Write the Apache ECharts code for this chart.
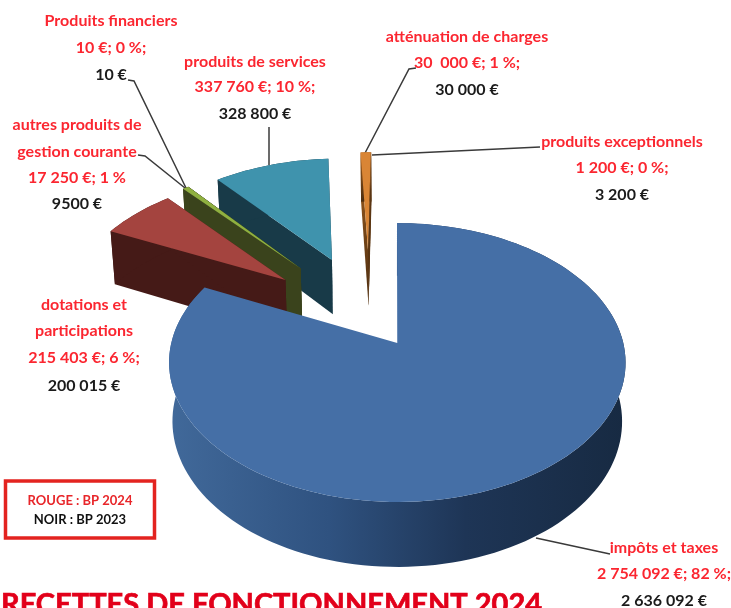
<!DOCTYPE html>
<html>
<head>
<meta charset="utf-8">
<script src="https://cdn.jsdelivr.net/npm/echarts@6/dist/echarts.min.js"></script>
<style>
html, body { margin: 0; padding: 0; background: #fff; overflow: hidden; }
#main { width: 731px; height: 608px; }
</style>
</head>
<body>
<div id="main"></div>
<script>
var categories = ['impôts et taxes', 'dotations et\nparticipations', 'autres produits de\ngestion courante', 'Produits financiers', 'produits de services', 'atténuation de charges', 'produits exceptionnels'];
var bp2024 = [2754092, 215403, 17250, 10, 337760, 30000, 1200];
var labels2024 = ['2 754 092 €; 82 %;', '215 403 €; 6 %;', '17 250 €; 1 %', '10 €; 0 %;', '337 760 €; 10 %;', '30  000 €; 1 %;', '1 200 €; 0 %;'];
var labels2023 = ['2 636 092 €', '200 015 €', '9500 €', '10 €', '328 800 €', '30 000 €', '3 200 €'];

// pie angles come from the values, clockwise from the top
var total = bp2024.reduce(function(a, b) { return a + b; }, 0);
var angles = [];
var acc = 0;
bp2024.forEach(function(v) {
    var from = acc / total * 360;
    acc += v;
    angles.push([from, acc / total * 360]);
});

// fake 3d: perspective of the pie plane
var cx = 395, cy = 343, rx = 226, ry = 136.7, persp = 0.14, depth = 58, shrink = 0.985;
var explode = [[0.01, 0], [-0.518, -0.493], [-0.452, -0.59], [-0.452, -0.59], [-0.305, -0.663], [-0.131, -0.734], [-0.131, -0.734]];
var topColors = ['#456fa6', '#a4443f', '#8fb040', '#8fb040', '#3f93ad', '#d98535', '#d98535'];
var wallColors = [null, '#451a17', '#3a431c', '#3a431c', '#183a48', '#5a3512', '#5a3512'];
var drawOrder = [5, 6, 4, 3, 2, 1, 0];

function project(u, v, low) {
    var s = 1 / (1 - persp * v);
    var x = rx * u * s;
    var y = ry * v * s;
    if (low) {
        return [cx + x * shrink, cy + y + depth * Math.pow(s, 0.75)];
    }
    return [cx + x, cy + y];
}

function arcPoints(i, from, to, low) {
    var pts = [];
    var n = Math.max(2, Math.ceil((to - from) / 2));
    for (var k = 0; k <= n; k++) {
        var a = (from + (to - from) * k / n) * Math.PI / 180;
        pts.push(project(explode[i][0] + Math.sin(a), explode[i][1] - Math.cos(a), low));
    }
    return pts;
}

function poly(points, fill) {
    return { type: 'polygon', shape: { points: points }, style: { fill: fill, stroke: null } };
}

function renderSlice(params, api) {
    var i = api.value(2);
    var from = api.value(0), to = api.value(1);
    var apexTop = project(explode[i][0], explode[i][1], false);
    var apexLow = project(explode[i][0], explode[i][1], true);
    var rimTop = arcPoints(i, from, to, false);
    var rimLow = arcPoints(i, from, to, true);
    var children = [];
    var rimFill = wallColors[i];
    if (i === 0) {
        rimFill = new echarts.graphic.LinearGradient(0, 0, 1, 0, [
            { offset: 0, color: '#41699a' },
            { offset: 0.35, color: '#2f5280' },
            { offset: 0.65, color: '#1e3556' },
            { offset: 1, color: '#172a42' }
        ]);
    }
    if (i === 5) {
        rimFill = new echarts.graphic.LinearGradient(0, 0, 0, 1, [
            { offset: 0, color: '#a2601f' },
            { offset: 1, color: '#4a2c10' }
        ]);
    }
    // radial walls, then outer wall, then the top face
    if (i !== 0) {
        children.push(poly([apexTop, rimTop[0], rimLow[0], apexLow], rimFill));
        children.push(poly([apexTop, rimTop[rimTop.length - 1], rimLow[rimLow.length - 1], apexLow], rimFill));
    }
    children.push(poly(rimTop.concat(rimLow.slice().reverse()), rimFill));
    children.push(poly([apexTop].concat(rimTop), topColors[i]));
    return { type: 'group', children: children };
}

// label blocks: x centre and one y per line
var labelPos = [
    { x: 664, y: [548, 574, 601] },
    { x: 84, y: [305, 331, 358, 386] },
    { x: 77, y: [125, 152, 178, 204] },
    { x: 111, y: [21, 48, 75] },
    { x: 255, y: [62, 87, 114] },
    { x: 467, y: [37, 63, 90] },
    { x: 622, y: [142, 168, 195] }
];
var leaders = [
    [[536, 538], [610, 554]],
    null,
    [[138, 155], [145, 156], [185, 188]],
    [[128, 80], [134, 81], [187, 190]],
    [[269, 127], [269, 165]],
    [[416, 68], [409, 69], [364, 155]],
    [[540, 147], [372, 155]]
];

var labelFont = 'Lato';
var graphics = [];

function addText(str, x, y, color) {
    graphics.push({
        type: 'text', x: x, y: y, silent: true,
        style: { text: str, align: 'center', verticalAlign: 'middle', fill: color, fontFamily: labelFont, fontWeight: 'bold', fontSize: 16 }
    });
}

categories.forEach(function(name, i) {
    var lines = name.split('\n');
    var colors = lines.map(function() { return '#fb2630'; });
    lines.push(labels2024[i]); colors.push('#fb2630');
    lines.push(labels2023[i]); colors.push('#1a1a1a');
    lines.forEach(function(l, k) {
        addText(l, labelPos[i].x, labelPos[i].y[k], colors[k]);
    });
    if (leaders[i]) {
        graphics.push({ type: 'polyline', silent: true, shape: { points: leaders[i] }, style: { stroke: '#3a3a3a', lineWidth: 1.5, fill: null } });
    }
});

// legend box and title
graphics.push({ type: 'rect', silent: true, shape: { x: 5.5, y: 481, width: 149, height: 57 }, style: { fill: '#fff', stroke: '#e3231f', lineWidth: 3.5 } });
graphics.push({ type: 'text', x: 80, y: 501, silent: true, style: { text: 'ROUGE : BP 2024', align: 'center', verticalAlign: 'middle', fill: '#e8262a', fontFamily: 'Lato', fontWeight: 'bold', fontSize: 13 } });
graphics.push({ type: 'text', x: 80, y: 520, silent: true, style: { text: 'NOIR : BP 2023', align: 'center', verticalAlign: 'middle', fill: '#111', fontFamily: 'Lato', fontWeight: 'bold', fontSize: 13 } });
graphics.push({ type: 'text', x: 1, y: 619, silent: true, style: { text: 'RECETTES DE FONCTIONNEMENT 2024', align: 'left', verticalAlign: 'bottom', fill: '#e2001a', stroke: '#e2001a', lineWidth: 0.7, fontFamily: 'Lato', fontWeight: 'bold', fontSize: 29 } });

var chart = echarts.init(document.getElementById('main'));
var option = {
    animation: false,
    graphic: { elements: graphics },
    series: [
        {
            type: 'custom',
            coordinateSystem: 'none',
            silent: true,
            renderItem: renderSlice,
            data: drawOrder.map(function(i) { return [angles[i][0], angles[i][1], i]; })
        }
    ]
};
chart.setOption(option);
</script>
</body>
</html>
